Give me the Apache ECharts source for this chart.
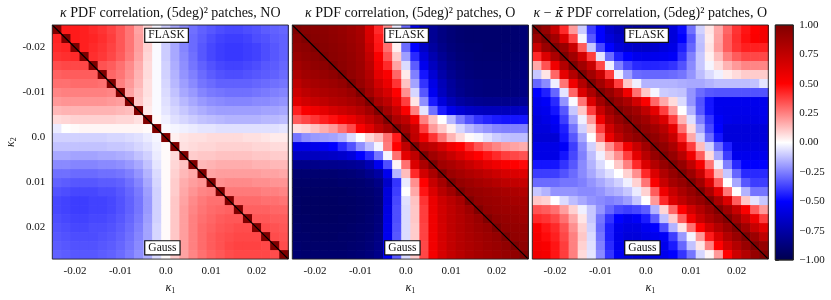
<!DOCTYPE html>
<html><head><meta charset="utf-8">
<script src="https://cdn.jsdelivr.net/npm/echarts@6/dist/echarts.min.js"></script>
<style>html,body{margin:0;padding:0;background:#fff}#c{width:831px;height:300px}</style>
</head><body><div id="c"></div>
<script>
// ---- data ----
const binEdges = [-0.025,-0.023,-0.021,-0.019,-0.017,-0.015,-0.013,-0.011,-0.009,-0.007,-0.005,-0.003,-0.001,0.001,0.003,0.005,0.007,0.009,0.011,0.013,0.015,0.017,0.019,0.021,0.023,0.025,0.027];
const axisTicks = [-0.02,-0.01,0,0.01,0.02];
const colorbarTicks = [-1,-0.75,-0.5,-0.25,0,0.25,0.5,0.75,1];
const panelTitles = [
  '{i|κ} PDF correlation, (5deg)² patches, NO',
  '{i|κ} PDF correlation, (5deg)² patches, O',
  '{i|κ} − {b|κ̄} PDF correlation, (5deg)² patches, O'
];
const upperLabel = 'FLASK', lowerLabel = 'Gauss';
const upperLabelAt = [-0.0045, -0.0227];
const lowerLabelAt = [-0.0045, 0.0245];

const corrNO = [
[1,.45,.45,.44,.42,.40,.37,.33,.27,.18,.08,-.02,-.10,-.17,-.23,-.28,-.31,-.33,-.35,-.36,-.36,-.35,-.34,-.32,-.31,-.30],
[.43,1,.45,.44,.43,.41,.38,.33,.27,.19,.09,-.01,-.10,-.17,-.24,-.29,-.32,-.35,-.37,-.38,-.38,-.37,-.35,-.34,-.32,-.31],
[.42,.43,1,.44,.42,.40,.37,.33,.27,.19,.09,-.01,-.10,-.17,-.24,-.29,-.33,-.36,-.38,-.39,-.39,-.38,-.37,-.35,-.33,-.31],
[.40,.41,.42,1,.41,.39,.36,.32,.26,.18,.08,-.01,-.10,-.17,-.23,-.28,-.33,-.36,-.38,-.39,-.39,-.38,-.37,-.35,-.33,-.31],
[.35,.36,.36,.36,1,.34,.32,.28,.23,.16,.07,-.01,-.09,-.16,-.22,-.27,-.31,-.34,-.36,-.37,-.37,-.36,-.35,-.33,-.32,-.30],
[.31,.32,.32,.32,.32,1,.30,.27,.22,.15,.07,-.01,-.09,-.15,-.21,-.25,-.29,-.32,-.34,-.35,-.35,-.34,-.33,-.32,-.31,-.29],
[.28,.28,.29,.29,.29,.28,1,.25,.20,.14,.06,-.01,-.08,-.14,-.19,-.23,-.27,-.29,-.31,-.31,-.31,-.31,-.30,-.29,-.28,-.27],
[.24,.25,.25,.25,.25,.25,.24,1,.18,.12,.06,-.01,-.07,-.12,-.17,-.20,-.24,-.26,-.27,-.28,-.28,-.28,-.27,-.26,-.25,-.24],
[.20,.21,.21,.21,.21,.21,.20,.19,1,.11,.05,-.01,-.06,-.10,-.14,-.17,-.20,-.22,-.23,-.24,-.24,-.24,-.23,-.23,-.22,-.21],
[.14,.15,.15,.15,.15,.15,.15,.14,.13,1,.04,-.01,-.05,-.08,-.11,-.14,-.16,-.18,-.19,-.19,-.19,-.19,-.19,-.18,-.18,-.17],
[.07,.08,.09,.09,.09,.09,.09,.08,.08,.06,1,.01,-.03,-.06,-.08,-.10,-.12,-.13,-.14,-.15,-.15,-.15,-.15,-.14,-.14,-.13],
[-.04,0,.01,.02,.02,.02,.02,.02,.02,.02,.01,1,-.01,-.02,-.03,-.04,-.05,-.05,-.06,-.06,-.06,-.06,-.06,-.06,-.06,-.05],
[-.09,-.09,-.09,-.09,-.09,-.09,-.08,-.08,-.07,-.06,-.04,-.02,1,.03,.05,.06,.06,.07,.07,.07,.07,.06,.06,.05,.04,.04],
[-.12,-.12,-.12,-.12,-.12,-.12,-.11,-.11,-.10,-.08,-.06,-.03,.01,1,.06,.07,.08,.08,.09,.09,.09,.09,.08,.08,.07,.07],
[-.17,-.17,-.18,-.18,-.18,-.17,-.17,-.16,-.15,-.12,-.09,-.04,.01,.07,1,.10,.11,.11,.12,.12,.12,.12,.11,.11,.10,.10],
[-.23,-.23,-.24,-.24,-.24,-.23,-.23,-.22,-.20,-.17,-.12,-.05,.01,.08,.12,1,.14,.15,.16,.16,.16,.16,.15,.15,.14,.14],
[-.28,-.28,-.29,-.29,-.29,-.28,-.28,-.27,-.25,-.21,-.15,-.07,.01,.09,.14,.17,1,.18,.19,.19,.19,.19,.19,.18,.18,.17],
[-.31,-.32,-.33,-.33,-.33,-.32,-.32,-.31,-.28,-.24,-.17,-.08,.01,.10,.16,.19,.21,1,.22,.23,.23,.23,.22,.22,.21,.21],
[-.34,-.35,-.36,-.36,-.36,-.35,-.35,-.33,-.30,-.26,-.19,-.09,.01,.10,.17,.21,.24,.25,1,.26,.26,.26,.26,.25,.25,.24],
[-.36,-.37,-.38,-.38,-.37,-.37,-.36,-.34,-.31,-.27,-.20,-.09,.01,.11,.18,.23,.26,.28,.28,1,.29,.29,.29,.28,.28,.27],
[-.36,-.37,-.38,-.38,-.37,-.37,-.36,-.34,-.31,-.27,-.20,-.09,.01,.11,.19,.24,.27,.29,.30,.31,1,.31,.31,.31,.30,.30],
[-.35,-.36,-.37,-.37,-.36,-.36,-.35,-.33,-.30,-.26,-.19,-.09,.01,.11,.19,.25,.28,.30,.32,.33,.33,1,.33,.33,.32,.32],
[-.34,-.35,-.36,-.36,-.35,-.35,-.34,-.32,-.29,-.25,-.18,-.08,.01,.11,.19,.25,.29,.31,.33,.34,.35,.35,1,.35,.34,.33],
[-.33,-.34,-.35,-.35,-.35,-.34,-.33,-.31,-.28,-.24,-.18,-.08,.01,.11,.19,.25,.29,.32,.34,.35,.36,.36,.36,1,.35,.34],
[-.32,-.33,-.34,-.34,-.34,-.33,-.32,-.30,-.27,-.23,-.17,-.08,.01,.11,.19,.25,.29,.32,.34,.36,.37,.37,.37,.36,1,.35],
[-.31,-.32,-.33,-.33,-.33,-.32,-.31,-.29,-.26,-.22,-.16,-.07,.01,.10,.18,.24,.28,.31,.33,.35,.36,.36,.36,.36,.35,1]
];

const corrO = [
[1,.97,.96,.95,.93,.91,.88,.84,.65,.42,.22,-.04,-.30,-.55,-.70,-.80,-.85,-.88,-.90,-.91,-.91,-.91,-.91,-.91,-.90,-.89],
[.95,1,.97,.96,.94,.92,.89,.85,.66,.45,.24,-.04,-.36,-.57,-.70,-.80,-.85,-.88,-.90,-.91,-.91,-.91,-.91,-.91,-.90,-.89],
[.93,.95,1,.97,.95,.93,.90,.86,.70,.46,.28,.03,-.29,-.50,-.66,-.77,-.83,-.87,-.89,-.90,-.90,-.91,-.91,-.90,-.90,-.89],
[.90,.93,.96,1,.96,.94,.91,.87,.74,.52,.34,.10,-.19,-.42,-.60,-.72,-.80,-.85,-.88,-.89,-.90,-.90,-.90,-.90,-.89,-.88],
[.86,.90,.93,.95,1,.95,.92,.88,.77,.56,.42,.18,-.07,-.32,-.55,-.68,-.77,-.83,-.86,-.88,-.89,-.89,-.89,-.89,-.88,-.87],
[.82,.87,.89,.91,.94,1,.93,.89,.80,.60,.52,.30,.04,-.25,-.46,-.62,-.74,-.81,-.85,-.87,-.88,-.88,-.88,-.88,-.87,-.86],
[.76,.82,.85,.87,.89,.92,1,.91,.83,.68,.58,.40,.12,-.18,-.40,-.57,-.70,-.78,-.83,-.85,-.86,-.87,-.87,-.87,-.86,-.85],
[.70,.76,.80,.82,.84,.86,.90,1,.87,.75,.66,.50,.22,-.08,-.33,-.54,-.68,-.77,-.82,-.85,-.86,-.87,-.87,-.87,-.86,-.85],
[.62,.68,.72,.75,.79,.81,.84,.89,1,.84,.76,.60,.38,.05,-.22,-.45,-.60,-.70,-.76,-.79,-.81,-.82,-.82,-.82,-.81,-.80],
[.44,.52,.56,.60,.66,.70,.74,.79,.87,1,.86,.72,.52,.25,-.05,-.28,-.45,-.56,-.62,-.66,-.68,-.69,-.69,-.69,-.68,-.67],
[.32,.36,.40,.44,.47,.52,.58,.66,.75,.85,1,.83,.75,.55,.25,.12,0,-.14,-.26,-.34,-.40,-.43,-.45,-.46,-.46,-.46],
[.06,.08,.12,.16,.20,.28,.36,.52,.62,.75,.85,1,.87,.72,.38,.20,.11,.03,-.08,-.14,-.18,-.21,-.24,-.25,-.25,-.25],
[-.27,-.22,-.20,-.19,-.18,-.15,-.07,0,.08,.14,.28,.45,1,.75,.56,.40,.27,.15,.07,.01,-.02,-.06,-.10,-.12,-.13,-.13],
[-.57,-.57,-.56,-.54,-.50,-.42,-.34,-.22,-.13,-.02,.26,.50,.75,1,.80,.75,.66,.56,.50,.42,.34,.28,.24,.20,.18,.16],
[-.68,-.68,-.68,-.67,-.66,-.64,-.60,-.50,-.42,-.27,-.02,.28,.60,.75,1,.87,.80,.72,.64,.56,.50,.46,.42,.38,.36,.34],
[-.83,-.83,-.83,-.82,-.82,-.81,-.80,-.78,-.71,-.55,-.35,.02,.28,.64,.83,1,.87,.83,.78,.72,.66,.60,.56,.52,.50,.48],
[-.90,-.90,-.90,-.90,-.90,-.89,-.88,-.86,-.82,-.76,-.55,-.15,.13,.42,.68,.83,1,.89,.85,.81,.78,.74,.70,.66,.64,.62],
[-.92,-.92,-.92,-.92,-.92,-.91,-.91,-.90,-.88,-.84,-.65,-.40,-.04,.22,.50,.72,.85,1,.91,.88,.85,.82,.79,.76,.74,.72],
[-.93,-.93,-.93,-.93,-.93,-.93,-.92,-.91,-.90,-.87,-.60,-.38,0,.17,.46,.64,.78,.87,1,.92,.90,.88,.86,.84,.82,.80],
[-.93,-.94,-.94,-.94,-.94,-.93,-.93,-.92,-.91,-.88,-.60,-.36,-.06,.12,.40,.58,.70,.77,.84,1,.92,.90,.89,.87,.85,.84],
[-.93,-.94,-.94,-.94,-.94,-.94,-.93,-.92,-.91,-.88,-.58,-.35,-.07,.11,.38,.57,.68,.75,.81,.88,1,.92,.90,.89,.88,.86],
[-.93,-.93,-.94,-.94,-.94,-.93,-.93,-.92,-.90,-.87,-.57,-.35,-.07,.11,.38,.56,.68,.75,.80,.85,.90,1,.93,.91,.90,.88],
[-.92,-.93,-.93,-.93,-.93,-.93,-.92,-.91,-.90,-.86,-.56,-.34,-.07,.10,.37,.56,.67,.75,.80,.84,.88,.91,1,.93,.92,.91],
[-.92,-.92,-.93,-.93,-.93,-.92,-.92,-.91,-.89,-.85,-.55,-.33,-.07,.10,.37,.55,.67,.74,.79,.83,.86,.89,.92,1,.93,.92],
[-.91,-.92,-.92,-.92,-.92,-.92,-.91,-.90,-.88,-.84,-.54,-.33,-.07,.10,.36,.55,.66,.74,.79,.82,.85,.88,.90,.93,1,.94],
[-.90,-.91,-.91,-.91,-.91,-.91,-.90,-.89,-.87,-.83,-.53,-.32,-.07,.10,.36,.54,.66,.73,.78,.82,.85,.87,.89,.91,.93,1]
];

const corrOmean = [
[1,.91,.72,.42,.20,-.10,-.38,-.50,-.64,-.70,-.74,-.76,-.76,-.74,-.70,-.60,-.48,-.28,-.09,.05,.17,.30,.40,.46,.50,.54],
[.90,1,.87,.64,.36,-.02,-.33,-.50,-.60,-.66,-.70,-.72,-.72,-.70,-.66,-.60,-.50,-.33,-.12,.04,.18,.32,.41,.47,.51,.54],
[.72,.90,1,.90,.72,.32,-.11,-.36,-.50,-.60,-.64,-.66,-.66,-.64,-.60,-.57,-.44,-.30,-.13,.05,.19,.32,.40,.44,.44,.44],
[.42,.64,.83,1,.87,.68,.38,-.05,-.29,-.44,-.50,-.55,-.56,-.55,-.54,-.52,-.40,-.25,-.11,.03,.13,.25,.32,.36,.36,.36],
[.17,.34,.56,.80,1,.87,.72,.36,-.03,-.25,-.36,-.42,-.43,-.43,-.42,-.40,-.34,-.23,-.11,-.02,.07,.15,.20,.24,.24,.24],
[-.11,.05,.30,.60,.80,1,.87,.72,.38,-.03,-.19,-.29,-.30,-.30,-.30,-.29,-.27,-.21,-.13,-.07,-.03,.04,.07,.10,.10,.10],
[-.30,-.23,-.03,.27,.56,.80,1,.87,.72,.38,.11,-.03,-.15,-.15,-.15,-.15,-.16,-.17,-.17,-.15,-.13,-.13,-.13,-.13,-.12,-.05],
[-.50,-.44,-.30,-.05,.30,.64,.83,1,.91,.79,.56,.28,.11,-.02,-.10,-.11,-.12,-.21,-.29,-.33,-.34,-.34,-.34,-.34,-.34,-.34],
[-.55,-.52,-.42,-.21,-.01,.27,.64,.87,1,.91,.83,.68,.52,.30,.17,.07,-.07,-.21,-.34,-.46,-.55,-.55,-.55,-.55,-.55,-.55],
[-.57,-.55,-.46,-.33,-.11,.11,.38,.72,.89,1,.93,.87,.75,.60,.38,.20,0,-.15,-.33,-.46,-.55,-.56,-.56,-.56,-.56,-.55],
[-.60,-.57,-.52,-.38,-.19,-.03,.20,.56,.80,.91,1,.93,.87,.75,.64,.38,.15,-.06,-.25,-.40,-.52,-.56,-.57,-.57,-.57,-.56],
[-.60,-.60,-.55,-.44,-.27,-.09,.09,.38,.68,.83,.91,1,.93,.87,.78,.60,.28,.07,-.17,-.36,-.50,-.60,-.60,-.60,-.60,-.60],
[-.62,-.62,-.62,-.46,-.33,-.17,0,.27,.58,.75,.87,.93,1,.93,.85,.72,.42,.17,-.09,-.29,-.46,-.60,-.60,-.60,-.60,-.60],
[-.57,-.57,-.57,-.52,-.38,-.23,-.09,.07,.22,.36,.56,.72,.87,1,.93,.83,.64,.38,.13,-.09,-.29,-.44,-.58,-.58,-.58,-.58],
[-.57,-.57,-.57,-.46,-.36,-.25,-.13,-.03,.11,.22,.38,.60,.78,.91,1,.91,.78,.56,.32,.07,-.17,-.38,-.55,-.55,-.55,-.55],
[-.46,-.46,-.46,-.40,-.33,-.23,-.15,-.07,0,.11,.25,.42,.64,.80,.91,1,.91,.75,.54,.27,-.03,-.25,-.42,-.50,-.50,-.50],
[-.38,-.38,-.38,-.34,-.29,-.23,-.17,-.11,-.06,0,.09,.22,.42,.64,.81,.91,1,.89,.72,.42,.15,-.11,-.30,-.42,-.42,-.42],
[-.29,-.29,-.29,-.27,-.27,-.25,-.21,-.17,-.13,-.09,-.03,.09,.27,.52,.72,.85,.91,1,.87,.64,.32,0,-.17,-.33,-.38,-.38],
[-.11,-.15,-.21,-.21,-.21,-.23,-.23,-.21,-.17,-.15,-.11,-.04,.09,.32,.56,.72,.83,.91,1,.83,.60,.27,0,-.15,-.27,-.27],
[.11,.09,0,-.07,-.13,-.17,-.21,-.23,-.25,-.23,-.19,-.11,0,.20,.42,.64,.75,.85,.91,1,.83,.64,.32,.11,-.05,-.11],
[.34,.32,.28,.19,.09,-.03,-.11,-.21,-.30,-.36,-.38,-.36,-.32,-.15,.08,.30,.50,.68,.80,.90,1,.87,.72,.52,.32,.20],
[.42,.40,.36,.28,.17,.05,-.11,-.27,-.40,-.50,-.55,-.52,-.45,-.32,-.12,.10,.32,.55,.72,.83,.91,1,.87,.72,.56,.38],
[.52,.46,.42,.34,.22,.09,-.09,-.29,-.44,-.55,-.58,-.58,-.54,-.50,-.35,-.15,.05,.28,.50,.68,.80,.90,1,.87,.72,.60],
[.54,.48,.44,.36,.25,.11,-.07,-.27,-.44,-.56,-.60,-.60,-.57,-.55,-.52,-.38,-.20,-.02,.20,.45,.65,.80,.90,1,.89,.75],
[.54,.52,.46,.38,.25,.09,-.06,-.25,-.42,-.55,-.60,-.60,-.58,-.56,-.55,-.45,-.30,-.12,.05,.25,.50,.68,.80,.90,1,.91],
[.56,.54,.46,.38,.25,.07,-.05,-.23,-.40,-.53,-.58,-.60,-.60,-.58,-.55,-.50,-.40,-.27,-.08,.02,.20,.50,.70,.80,.91,1]
];

// ---- rendering ----
const FONT = 'Liberation Serif';
const panels = [corrNO, corrO, corrOmean];
const gridLefts = [52.3, 292.3, 532.3];
const GRID_TOP = 25, GRID_W = 236, GRID_H = 235;
const CB_LEFT = 775.3, CB_W = 18;

// matplotlib "seismic" colormap
const seismicStops = [[0,0,0,0.3],[0.25,0,0,1],[0.5,1,1,1],[0.75,1,0,0],[1,0.5,0,0]];
function seismic(v){
  let t = (v + 1) / 2; t = Math.max(0, Math.min(1, t));
  for (let k = 0; k < seismicStops.length - 1; k++){
    const a = seismicStops[k], b = seismicStops[k+1];
    if (t <= b[0]){
      const f = (t - a[0]) / (b[0] - a[0]);
      const c = [1,2,3].map(q => Math.round(255 * (a[q] + (b[q] - a[q]) * f)));
      return 'rgb(' + c.join(',') + ')';
    }
  }
  return 'rgb(128,0,0)';
}
function cells(m){
  const out = [];
  for (let i = 0; i < m.length; i++)
    for (let j = 0; j < m[i].length; j++)
      out.push([binEdges[j], binEdges[j+1], binEdges[i], binEdges[i+1], m[i][j]]);
  return out;
}
function renderCell(params, api){
  const p0 = api.coord([api.value(0), api.value(2)]);
  const p1 = api.coord([api.value(1), api.value(3)]);
  return {type:'rect', shape:{x:Math.min(p0[0],p1[0]), y:Math.min(p0[1],p1[1]),
    width:Math.abs(p1[0]-p0[0])+0.7, height:Math.abs(p1[1]-p0[1])+0.7},
    style:{fill: seismic(api.value(4))}};
}
function renderFrame(params, api){
  const p0 = api.coord([api.value(0), api.value(2)]);
  const p1 = api.coord([api.value(1), api.value(3)]);
  return {type:'rect', shape:{x:Math.min(p0[0],p1[0]), y:Math.min(p0[1],p1[1]),
    width:Math.abs(p1[0]-p0[0]), height:Math.abs(p1[1]-p0[1])},
    style:{fill:'none', stroke:'#222', lineWidth:0.9}};
}
const tickFmt = v => (Math.abs(v) < 1e-9 ? '0.0' : v.toFixed(2));
const eMin = binEdges[0], eMax = binEdges[binEdges.length-1];
const labelStyle = {fontFamily:FONT, fontSize:11, color:'#111'};
const richName = {i:{fontFamily:FONT, fontStyle:'italic', fontSize:12, color:'#111'}, s:{fontFamily:FONT, fontSize:8, color:'#111', padding:[6,0,0,0]}};

const grids = [], xAxes = [], yAxes = [], series = [];
panels.forEach((m, k) => {
  grids.push({left:gridLefts[k], top:GRID_TOP, width:GRID_W, height:GRID_H});
  xAxes.push({type:'value', gridIndex:k, min:eMin, max:eMax,
    axisLine:{show:false}, splitLine:{show:false},
    axisTick:{show:true, customValues:axisTicks, length:3.5, lineStyle:{color:'#111', width:0.8}},
    axisLabel:{customValues:axisTicks, formatter:tickFmt, margin:7, ...labelStyle},
    name:'{i|κ}{s|1}', nameLocation:'middle', nameGap:19, nameTextStyle:{rich:richName}});
  yAxes.push({type:'value', gridIndex:k, min:eMin, max:eMax, inverse:true,
    axisLine:{show:false}, splitLine:{show:false},
    axisTick:{show:true, customValues:axisTicks, length:3.5, lineStyle:{color:'#111', width:0.8}},
    axisLabel:{show:k===0, customValues:axisTicks, formatter:tickFmt, margin:7, ...labelStyle},
    name:k===0 ? '{i|κ}{s|2}' : '', nameLocation:'middle', nameGap:34, nameRotate:90,
    nameTextStyle:{rich:richName}});
  series.push({type:'custom', xAxisIndex:k, yAxisIndex:k, renderItem:renderCell, clip:true,
    encode:{x:[0,1], y:[2,3]}, data:cells(m), silent:true, z:1});
  series.push({type:'line', xAxisIndex:k, yAxisIndex:k, data:[[eMin,eMin],[eMax,eMax]],
    symbol:'none', lineStyle:{color:'#000', width:1.3}, silent:true, z:3, clip:true});
  series.push({type:'custom', xAxisIndex:k, yAxisIndex:k, renderItem:renderFrame,
    encode:{x:[0,1], y:[2,3]}, data:[[eMin,eMax,eMin,eMax]], silent:true, z:4});
});
// colorbar
grids.push({left:CB_LEFT, top:GRID_TOP, width:CB_W, height:GRID_H});
xAxes.push({type:'value', gridIndex:3, min:0, max:1, show:false});
yAxes.push({type:'value', gridIndex:3, min:-1, max:1, interval:0.25, position:'right',
  axisLine:{show:false}, splitLine:{show:false},
  axisTick:{show:true, length:3.5, lineStyle:{color:'#111', width:0.8}},
  axisLabel:{formatter:v => v.toFixed(2).replace('-', '−'), margin:6, ...labelStyle}});
series.push({type:'custom', xAxisIndex:3, yAxisIndex:3, silent:true, z:1,
  encode:{x:[0,1], y:[2,3]}, data:[[0,1,-1,1]],
  renderItem:(params, api) => {
    const p0 = api.coord([api.value(0), api.value(3)]);
    const p1 = api.coord([api.value(1), api.value(2)]);
    return {type:'rect', shape:{x:p0[0], y:p0[1], width:p1[0]-p0[0], height:p1[1]-p0[1]},
      style:{stroke:'#222', lineWidth:0.9, fill:new echarts.graphic.LinearGradient(0,0,0,1,
        seismicStops.slice().reverse().map(s => ({offset:1-s[0],
          color:'rgb('+Math.round(s[1]*255)+','+Math.round(s[2]*255)+','+Math.round(s[3]*255)+')'})))}};
  }});

const chart = echarts.init(document.getElementById('c'), null, {renderer:'canvas', width:831, height:300});
chart.setOption({animation:false, backgroundColor:'#fff', grid:grids, xAxis:xAxes, yAxis:yAxes, series:series});

// titles and FLASK / Gauss boxes
const TITLE_SIZE = 14;
const graphics = [];
panels.forEach((m, k) => {
  graphics.push({type:'text', x:gridLefts[k] + GRID_W/2, y:6.5, z:10,
    style:{text:panelTitles[k], fontFamily:FONT, fontSize:TITLE_SIZE, fill:'#111', align:'center', verticalAlign:'top',
      rich:{i:{fontFamily:FONT, fontStyle:'italic', fontSize:TITLE_SIZE, fill:'#111'},
            b:{fontFamily:'DejaVu Serif', fontStyle:'italic', fontSize:TITLE_SIZE-1.5, fill:'#111'}}}});
  [[upperLabel, upperLabelAt],[lowerLabel, lowerLabelAt]].forEach(([txt, at]) => {
    const p = chart.convertToPixel({gridIndex:k}, at);
    graphics.push({type:'text', x:p[0], y:p[1], z:10,
      style:{text:txt, fontFamily:FONT, fontSize:11.5, fill:'#111', align:'left', verticalAlign:'middle',
        backgroundColor:'#fff', borderColor:'#111', borderWidth:1.2, padding:[1,3,0,3]}});
  });
});
chart.setOption({graphic:graphics});
</script></body></html>
